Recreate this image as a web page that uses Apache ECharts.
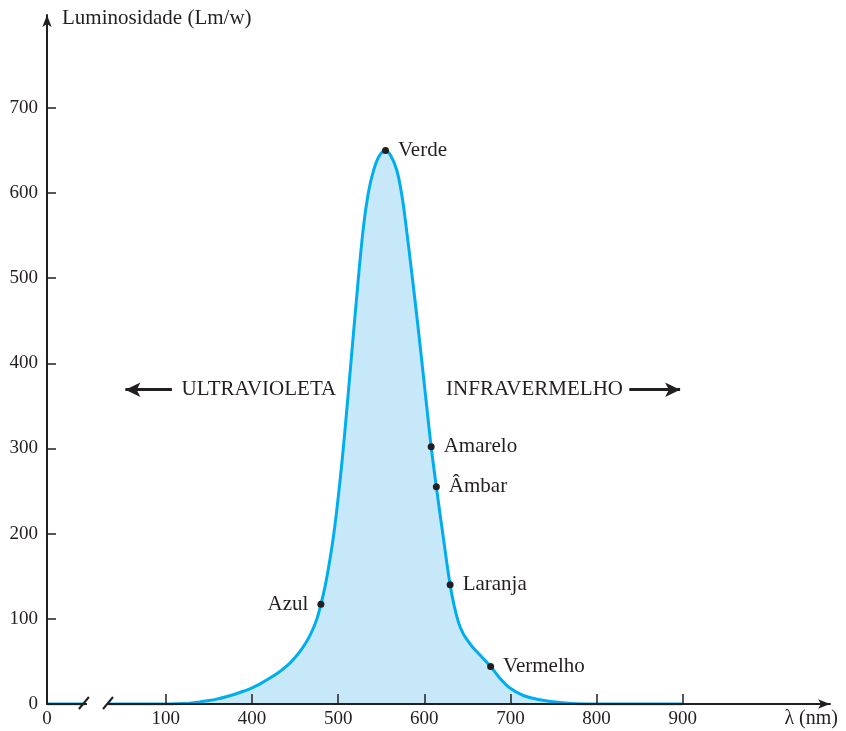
<!DOCTYPE html>
<html>
<head>
<meta charset="utf-8">
<script src="https://cdn.jsdelivr.net/npm/echarts@6.0.0/dist/echarts.min.js"></script>
<style>
html,body{margin:0;padding:0;background:#fff;}
#chart{width:846px;height:731px;}
</style>
</head>
<body>
<div id="chart"></div>
<script>
// ---- data ----
var curveLambda = [162, 206, 220, 234, 300, 310, 320, 330, 340, 350, 360, 370, 380, 390, 400, 410, 420, 430, 437, 444, 450, 456, 462, 467, 472, 476, 480, 485, 490, 495, 500, 505, 510, 515, 521, 529, 535, 541, 548, 555, 561, 568, 574, 579, 585, 590, 596, 602, 608, 614, 622, 630, 635, 640, 645, 650, 656, 666, 677, 688, 699, 715, 734, 760, 790, 900];
var curveLum    = [0,   0,   '-', 0,   0,   0.2, 0.5, 1.3, 2.5, 4,   6,   8.5, 11.5, 15, 19,  24,  30,  36.5, 41.8, 48, 54.5, 62,  71,  80,  91,  102, 117, 139, 167, 200, 242, 290, 345, 403, 472, 557, 600, 626, 644, 650, 644, 627, 597, 560, 510, 467, 413, 357, 302, 255, 196, 140, 114, 95,  83,  75,  67,  56,  44,  30,  19,  10,  5,   1.5, 0,   0];

var pointNames  = ['Verde', 'Amarelo', 'Âmbar', 'Laranja', 'Vermelho', 'Azul'];
var pointLambda = [555, 608, 614, 630, 677, 480];
var pointLum    = [650, 302, 255, 140, 44, 117];
var pointSide   = ['right', 'right', 'right', 'right', 'right', 'left'];

var regionNames  = ['ULTRAVIOLETA', 'INFRAVERMELHO'];
var regionLambda = [408, 728];
var regionLum    = [369, 369];
var arrowLeft    = [[253, 369], [307, 369]];
var arrowRight   = [[838, 369], [897, 369]];

var xTickValues = [162, 300, 400, 500, 600, 700, 800, 900];
var xTickLabels = ['0', '100', '400', '500', '600', '700', '800', '900'];
var yTickValues = [0, 100, 200, 300, 400, 500, 600, 700];
var breakStart = 206, breakEnd = 234;

var xMin = 162, xMax = 1071, yMin = 0, yMax = 809;

// ---- chart ----
var ink = '#231f20';
var serif = 'Liberation Serif';
var chart = echarts.init(document.getElementById('chart'), null, {renderer: 'canvas'});

var xLabelMap = {};
xTickValues.forEach(function (v, i) { xLabelMap[v] = xTickLabels[i]; });

var curveData = curveLambda.map(function (l, i) { return [l, curveLum[i]]; });
var pointData = pointNames.map(function (n, i) {
  return {name: n, value: [pointLambda[i], pointLum[i]], label: {position: pointSide[i]}};
});
var regionData = regionNames.map(function (n, i) {
  return {name: n, value: [regionLambda[i], regionLum[i]]};
});

var option = {
  animation: false,
  backgroundColor: '#fff',
  grid: {left: 47, right: 16, top: 15, bottom: 27, containLabel: false},
  xAxis: {
    type: 'value', min: xMin, max: xMax, z: 3,
    name: 'λ (nm)', nameLocation: 'end', nameGap: 8,
    nameTextStyle: {fontFamily: serif, fontSize: 20, color: ink, align: 'right', verticalAlign: 'top', padding: [5, 0, 0, 0]},
    axisLine: {show: true, lineStyle: {color: ink, width: 2}, symbol: ['none', 'arrow'], symbolSize: [7, 12]},
    axisTick: {show: true, inside: true, length: 10, lineStyle: {color: ink, width: 1.5}, customValues: xTickValues.slice(1)},
    axisLabel: {show: true, margin: 6, fontFamily: serif, fontSize: 19, color: ink, customValues: xTickValues,
      formatter: function (v) { return xLabelMap[v] !== undefined ? xLabelMap[v] : ''; }},
    splitLine: {show: false}
  },
  yAxis: {
    type: 'value', min: yMin, max: yMax, z: 3,
    name: 'Luminosidade (Lm/w)', nameLocation: 'end', nameGap: -3,
    nameTextStyle: {fontFamily: serif, fontSize: 21, color: ink, align: 'left', verticalAlign: 'middle', padding: [0, 0, 0, 15]},
    axisLine: {show: true, lineStyle: {color: ink, width: 2}, symbol: ['none', 'arrow'], symbolSize: [7, 12]},
    axisTick: {show: true, inside: true, length: 9, lineStyle: {color: ink, width: 1.5}, customValues: yTickValues.slice(1)},
    axisLabel: {show: true, margin: 9, fontFamily: serif, fontSize: 19, color: ink, customValues: yTickValues},
    splitLine: {show: false}
  },
  series: [
    {
      type: 'line', data: curveData, smooth: 0.4, symbol: 'none', connectNulls: false, z: 2,
      lineStyle: {color: '#00aeef', width: 3},
      areaStyle: {color: '#c6e8f8', opacity: 1}
    },
    {
      type: 'scatter', data: pointData, symbolSize: 7, z: 5,
      itemStyle: {color: ink, opacity: 1},
      label: {show: true, formatter: '{b}', distance: 9, fontFamily: serif, fontSize: 21, color: ink, opacity: 1}
    },
    {
      type: 'scatter', data: regionData, symbolSize: 0, z: 5, silent: true,
      itemStyle: {opacity: 1},
      label: {show: true, position: 'inside', formatter: '{b}', fontFamily: serif, fontSize: 21, color: ink, opacity: 1},
      markLine: {
        silent: true, animation: false,
        lineStyle: {color: ink, width: 3, type: 'solid', opacity: 1},
        label: {show: false},
        symbolSize: [11, 15],
        data: [
          [{coord: arrowLeft[0], symbol: 'arrow'}, {coord: arrowLeft[1], symbol: 'none'}],
          [{coord: arrowRight[0], symbol: 'none'}, {coord: arrowRight[1], symbol: 'arrow'}]
        ]
      }
    }
  ]
};
chart.setOption(option);

// axis break marks, placed through the axis scale
var p1 = chart.convertToPixel({gridIndex: 0}, [breakStart, 0]);
var p2 = chart.convertToPixel({gridIndex: 0}, [breakEnd, 0]);
chart.setOption({
  graphic: [
    {type: 'rect', z: 100, shape: {x: p1[0] + 2, y: p1[1] - 4, width: p2[0] - p1[0] - 4, height: 8}, style: {fill: '#fff'}},
    {type: 'line', z: 101, shape: {x1: p1[0] - 6, y1: p1[1] + 5, x2: p1[0] + 4, y2: p1[1] - 7}, style: {stroke: ink, lineWidth: 2}},
    {type: 'line', z: 101, shape: {x1: p2[0] - 6, y1: p2[1] + 5, x2: p2[0] + 4, y2: p2[1] - 7}, style: {stroke: ink, lineWidth: 2}}
  ]
});
</script>
</body>
</html>
